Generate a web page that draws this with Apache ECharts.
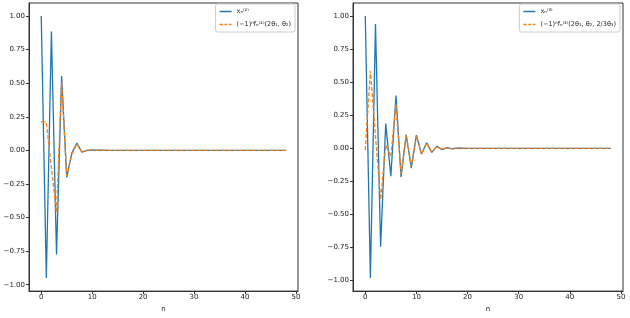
<!DOCTYPE html>
<html><head><meta charset="utf-8">
<script src="https://cdn.jsdelivr.net/npm/echarts@6/dist/echarts.min.js"></script>
<style>html,body{margin:0;padding:0;background:#fff}#c{width:630px;height:318px}</style>
</head><body><div id="c"></div>
<script>
const xTicks = [0, 10, 20, 30, 40, 50];
const yTicks = [-1.0, -0.75, -0.5, -0.25, 0.0, 0.25, 0.5, 0.75, 1.0];
const n = Array.from({length: 49}, (_, i) => i);
const x2 = [1.0, -0.95, 0.886, -0.775, 0.553, -0.2, -0.02, 0.054, -0.013, 0.0, 0.004, 0.002, 0.001, 0, 0, 0, 0, 0, 0, 0, 0, 0, 0, 0, 0, 0, 0, 0, 0, 0, 0, 0, 0, 0, 0, 0, 0, 0, 0, 0, 0, 0, 0, 0, 0, 0, 0, 0, 0];
const f2 = [0.214, 0.209, -0.13, -0.46, 0.51, -0.19, -0.03, 0.05, -0.015, 0.0, 0.004, 0.002, 0.001, 0, 0, 0, 0, 0, 0, 0, 0, 0, 0, 0, 0, 0, 0, 0, 0, 0, 0, 0, 0, 0, 0, 0, 0, 0, 0, 0, 0, 0, 0, 0, 0, 0, 0, 0, 0];
const x3 = [1.0, -0.98, 0.94, -0.744, 0.187, -0.21, 0.4, -0.217, 0.105, -0.15, 0.1, -0.043, 0.043, -0.03, 0.015, -0.008, 0.006, -0.003, 0.002, 0.001, 0, 0, 0, 0, 0, 0, 0, 0, 0, 0, 0, 0, 0, 0, 0, 0, 0, 0, 0, 0, 0, 0, 0, 0, 0, 0, 0, 0, 0];
const f3 = [-0.013, 0.587, 0.09, -0.387, 0.025, -0.06, 0.337, -0.195, 0.1, -0.137, 0.095, -0.045, 0.04, -0.028, 0.014, -0.008, 0.005, -0.003, 0.002, 0.001, 0, 0, 0, 0, 0, 0, 0, 0, 0, 0, 0, 0, 0, 0, 0, 0, 0, 0, 0, 0, 0, 0, 0, 0, 0, 0, 0, 0, 0];
const names2 = ['xₙ⁽²⁾', '(−1)ⁿfₙ⁽²⁾(2θ₁, θ₂)'];
const names3 = ['xₙ⁽³⁾', '(−1)ⁿfₙ⁽³⁾(2θ₁, θ₂, 2/3θ₃)'];

const FONT = 'DejaVu Sans';
const BLUE = '#1f77b4', ORANGE = '#ff7f0e';
const SOLID_ICON = 'path://M0,0h16v2h-16z';
const DASH_ICON = 'path://M0,0h4.5v2h-4.5z M6.5,0h4v2h-4z M12.5,0h3.5v2h-3.5z';
const fmtY = v => (v < 0 ? '−' : '') + Math.abs(v).toFixed(2);
const pairs = (arr) => n.map((k, i) => [k, arr[i]]);

function xAxis(gi) {
  return {
    type: 'value', gridIndex: gi, min: -2.4, max: 50.4,
    name: 'n', nameLocation: 'middle', nameGap: 14,
    nameTextStyle: {fontFamily: FONT, fontSize: 7, color: '#222'},
    splitLine: {show: false},
    axisLine: {show: true, onZero: false, lineStyle: {color: '#333', width: 1}},
    axisTick: {show: true, inside: false, length: 3, customValues: xTicks, lineStyle: {color: '#333'}},
    axisLabel: {fontFamily: FONT, fontSize: 7, color: '#222', margin: 3, customValues: xTicks, formatter: v => String(v)}
  };
}
function yAxis(gi, mn, mx) {
  return {
    type: 'value', gridIndex: gi, min: mn, max: mx,
    splitLine: {show: false},
    axisLine: {show: true, onZero: false, lineStyle: {color: '#333', width: 1}},
    axisTick: {show: true, inside: false, length: 3, customValues: yTicks, lineStyle: {color: '#333'}},
    axisLabel: {fontFamily: FONT, fontSize: 7, color: '#222', margin: 4, customValues: yTicks, formatter: fmtY}
  };
}
function line(name, data, gi, color, dashed) {
  return {
    type: 'line', name, data: pairs(data), xAxisIndex: gi, yAxisIndex: gi,
    showSymbol: false, symbol: 'none', animation: false,
    lineStyle: {color, width: 1.3, type: dashed ? [4, 2] : 'solid'},
    itemStyle: {color}, z: dashed ? 3 : 2
  };
}
function legend(names, right) {
  return {
    data: [{name: names[0], icon: SOLID_ICON}, {name: names[1], icon: DASH_ICON}],
    orient: 'vertical', top: 4, right,
    itemWidth: 12, itemHeight: 1.5, itemGap: 6, padding: [4, 4, 4, 4],
    backgroundColor: '#fff', borderColor: '#ccc', borderWidth: 1, borderRadius: 2,
    textStyle: {fontFamily: FONT, fontSize: 6.5, color: '#222'}
  };
}

const chart = echarts.init(document.getElementById('c'), null, {renderer: 'canvas'});
chart.setOption({
  animation: false,
  backgroundColor: '#fff',
  grid: [
    {left: 29, top: 3, width: 269, height: 291, show: true, borderColor: '#333', borderWidth: 1},
    {left: 353, top: 3, width: 270, height: 291, show: true, borderColor: '#333', borderWidth: 1}
  ],
  xAxis: [xAxis(0), xAxis(1)],
  yAxis: [yAxis(0, -1.0475, 1.0975), yAxis(1, -1.079, 1.099)],
  legend: [legend(names2, 335), legend(names3, 10)],
  series: [
    line(names2[0], x2, 0, BLUE, false),
    line(names2[1], f2, 0, ORANGE, true),
    line(names3[0], x3, 1, BLUE, false),
    line(names3[1], f3, 1, ORANGE, true)
  ]
});
</script></body></html>
